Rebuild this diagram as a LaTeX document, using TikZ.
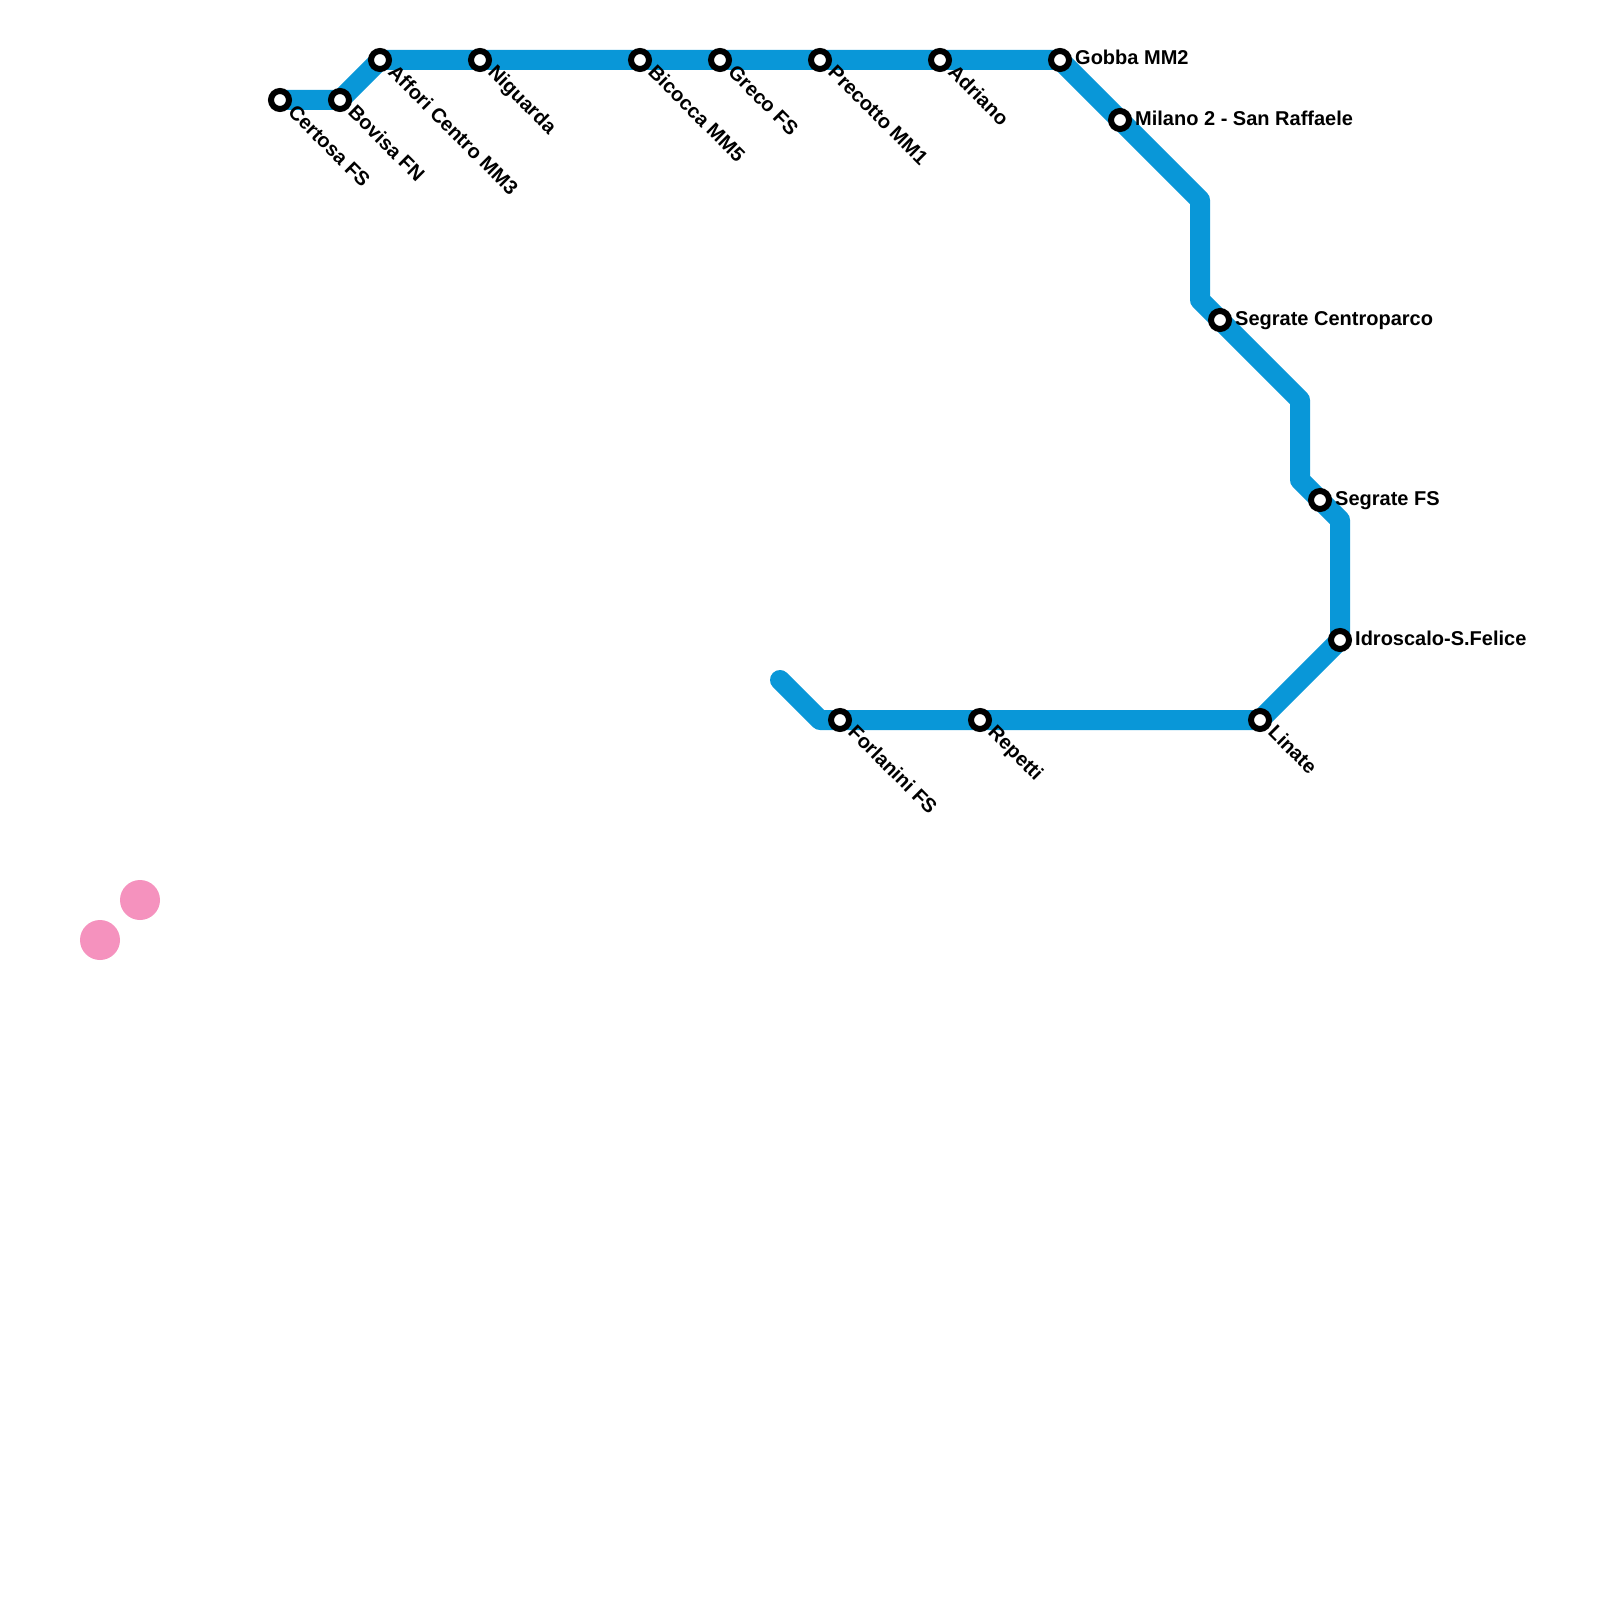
\documentclass[tikz,border=0pt]{standalone}
\usepackage{fontspec}
\setmainfont{Liberation Sans}
\usetikzlibrary{backgrounds}
\definecolor{metroblue}{HTML}{0997D8}
\definecolor{metropink}{HTML}{F592BE}
\tikzset{
  metroline/.style={draw=metroblue, line width=20pt, line cap=round, line join=round},
  station/.style={circle, draw=black, fill=white, line width=6pt, inner sep=0pt, outer sep=0pt, minimum size=18pt},
  pinkstop/.style={circle, fill=metropink, inner sep=0pt, outer sep=0pt, minimum size=40pt},
  rightlabel/.style={anchor=base west, inner sep=0pt, font=\fontsize{20}{22}\selectfont\bfseries},
  downlabel/.style={anchor=base west, rotate=-45, inner sep=0pt, font=\fontsize{20}{22}\selectfont\bfseries}
}
\begin{document}
\begin{tikzpicture}[x=1pt,y=-1pt]
\useasboundingbox (0,0) rectangle (1600,1600);
\node[station] (certosa) at (280,100) {};
\node[station] (bovisa) at (340,100) {};
\node[station] (affori) at (380,60) {};
\node[station] (niguarda) at (480,60) {};
\node[station] (bicocca) at (640,60) {};
\node[station] (greco) at (720,60) {};
\node[station] (precotto) at (820,60) {};
\node[station] (adriano) at (940,60) {};
\node[station] (gobba) at (1060,60) {};
\node[station] (milano) at (1120,120) {};
\node[station] (centroparco) at (1220,320) {};
\node[station] (segrate) at (1320,500) {};
\node[station] (idroscalo) at (1340,640) {};
\node[station] (linate) at (1260,720) {};
\node[station] (repetti) at (980,720) {};
\node[station] (forlanini) at (840,720) {};
\coordinate (bendA) at (1200,200);
\coordinate (bendB) at (1200,300);
\coordinate (bendC) at (1300,400);
\coordinate (bendD) at (1300,480);
\coordinate (bendE) at (1340,520);
\coordinate (bendF) at (820,720);
\coordinate (lineend) at (780,680);
\begin{pgfonlayer}{background}
\draw[metroline] (certosa.center) -- (bovisa.center) -- (affori.center) -- (gobba.center) -- (bendA) -- (bendB) -- (bendC) -- (bendD) -- (bendE) -- (idroscalo.center) -- (linate.center) -- (bendF) -- (lineend);
\end{pgfonlayer}
\node[pinkstop] (pinkA) at (100,940) {};
\node[pinkstop] (pinkB) at (140,900) {};
\node[downlabel] (certosalabel) at (287,113.5) {Certosa FS};
\node[downlabel] (bovisalabel) at (347,113.5) {Bovisa FN};
\node[downlabel] (afforilabel) at (387,73.5) {Affori Centro MM3};
\node[downlabel] (niguardalabel) at (487,73.5) {Niguarda};
\node[downlabel] (bicoccalabel) at (647,73.5) {Bicocca MM5};
\node[downlabel] (grecolabel) at (727,73.5) {Greco FS};
\node[downlabel] (precottolabel) at (827,73.5) {Precotto MM1};
\node[downlabel] (adrianolabel) at (947,73.5) {Adriano};
\node[rightlabel] (gobbalabel) at (1075,65) {Gobba MM2};
\node[rightlabel] (milanolabel) at (1135,125) {Milano 2 - San Raffaele};
\node[rightlabel] (centroparcolabel) at (1235,325) {Segrate Centroparco};
\node[rightlabel] (segratelabel) at (1335,505) {Segrate FS};
\node[rightlabel] (idroscalolabel) at (1355,645) {Idroscalo-S.Felice};
\node[downlabel] (linatelabel) at (1267,733.5) {Linate};
\node[downlabel] (repettilabel) at (987,733.5) {Repetti};
\node[downlabel] (forlaninilabel) at (847,733.5) {Forlanini FS};
\end{tikzpicture}
\end{document}
